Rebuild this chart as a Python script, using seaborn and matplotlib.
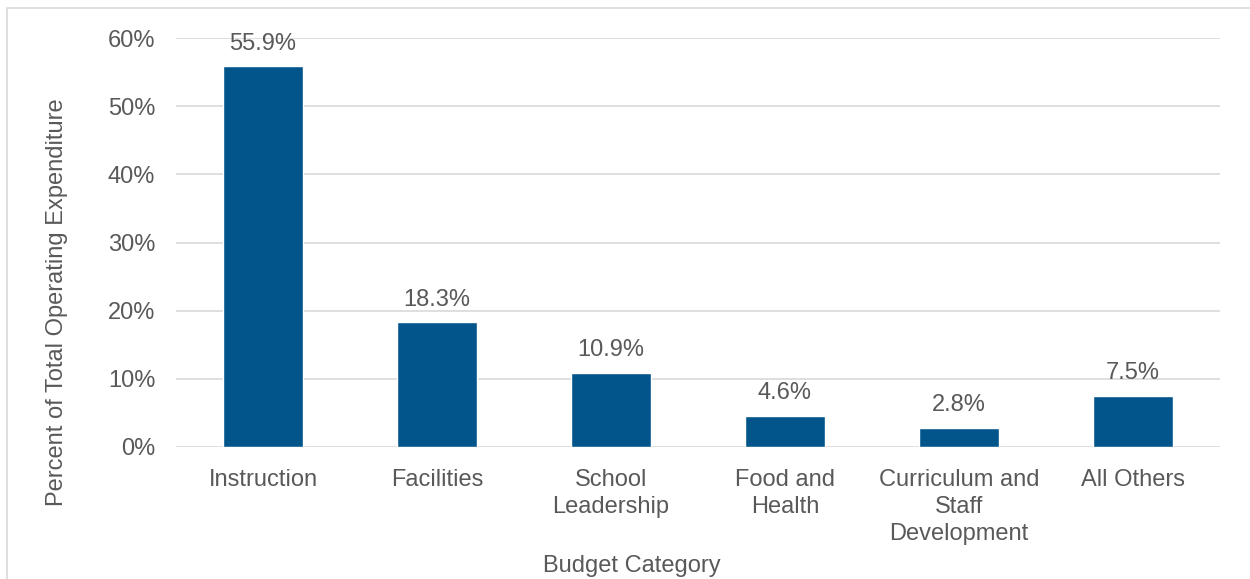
import matplotlib
matplotlib.use("Agg")
import matplotlib.pyplot as plt
from matplotlib.patches import Rectangle
import seaborn as sns
import pandas as pd

categories = ["Instruction", "Facilities", "School\nLeadership", "Food and\nHealth",
              "Curriculum and\nStaff\nDevelopment", "All Others"]
shares = [55.9, 18.3, 10.9, 4.6, 2.8, 7.5]
y_ticks = [0, 10, 20, 30, 40, 50, 60]

sns.set_theme(style="white")
plt.rcParams["font.family"] = ["Liberation Sans", "DejaVu Sans"]

text_color = "#595959"
bar_color = "#02558B"
grid_color = "#D9D9D9"
fs = 17

df = pd.DataFrame({"category": categories, "share": shares})

fig = plt.figure(figsize=(12.5, 5.79), dpi=100)
ax = fig.add_axes([0.1408, 0.228, 0.976 - 0.1408, 0.934 - 0.228])

# outer frame around the chart
fig.patches.append(Rectangle((7 / 1250, -0.05), 1.1, 1 - 8 / 579 + 0.05,
                             transform=fig.transFigure, fill=False,
                             edgecolor=grid_color, linewidth=1.2))

sns.barplot(data=df, x="category", y="share", color=bar_color, width=0.455,
            saturation=1, ax=ax, zorder=3)

ax.set_ylim(0, 60)
ax.set_yticks(y_ticks)
ax.set_yticklabels([f"{t}%" for t in y_ticks])
ax.yaxis.grid(True, color=grid_color, linewidth=1.2, zorder=0)
ax.set_axisbelow(True)
for s in ax.spines.values():
    s.set_visible(False)

ax.tick_params(axis="y", length=0, pad=15, labelsize=fs, labelcolor=text_color)
ax.tick_params(axis="x", length=0, pad=16, labelsize=fs, labelcolor=text_color)
for lbl in ax.get_xticklabels():
    lbl.set_linespacing(1.3)

for i, v in enumerate(shares):
    ax.text(i, v + 1.7, f"{v}%", ha="center", va="bottom", fontsize=fs, color=text_color)

ax.set_xlabel("Budget Category", fontsize=fs, color=text_color)
ax.set_ylabel("Percent of Total Operating Expenditure", fontsize=fs, color=text_color)
ax.xaxis.label.set_va("center")
ax.yaxis.label.set_va("center")
ax.yaxis.set_label_coords(-0.114, 0.355)
ax.xaxis.set_label_coords(0.437, -0.292)

fig.savefig("out.png", dpi=100)
